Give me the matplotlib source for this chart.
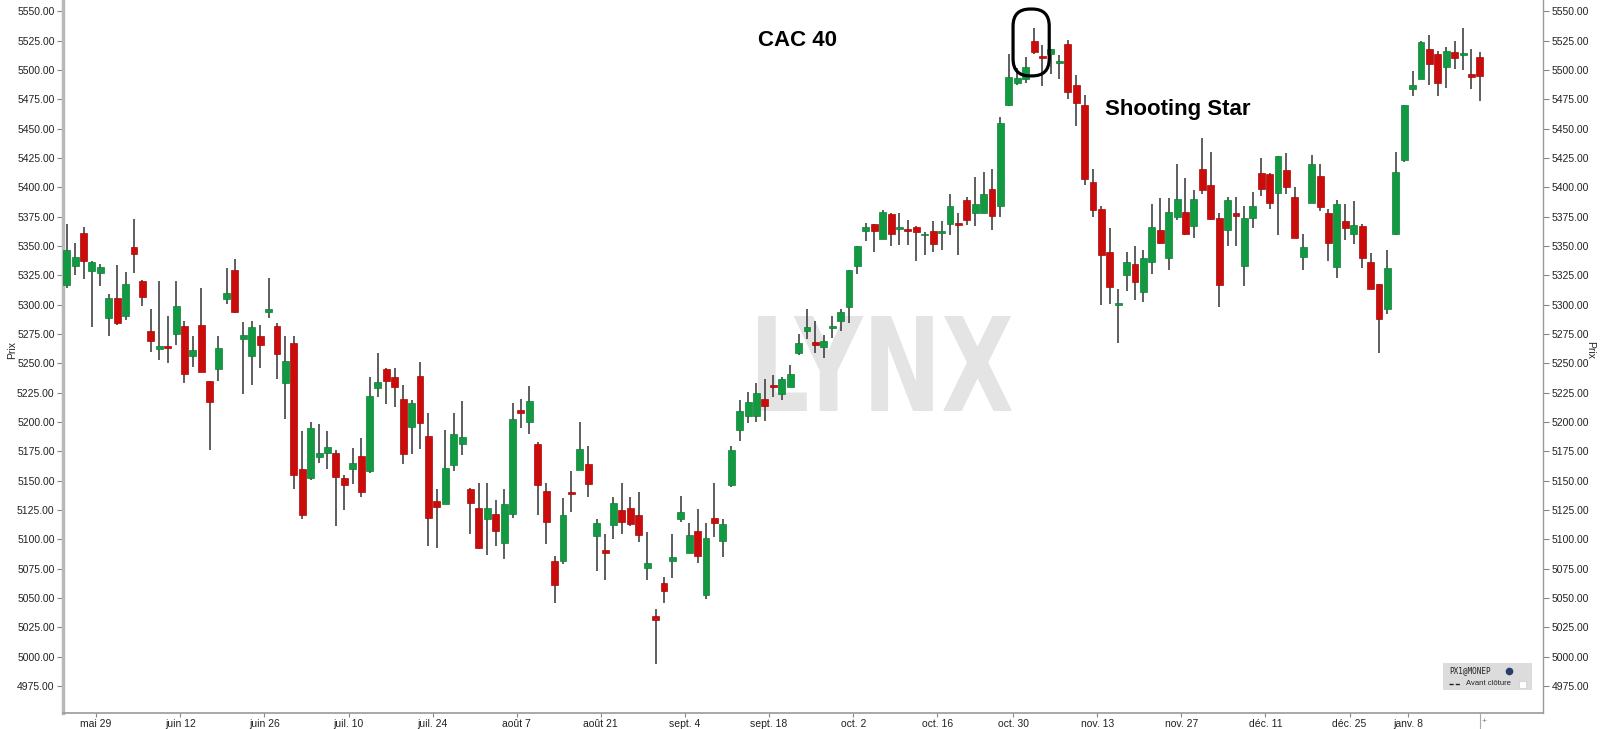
import numpy as np
import pandas as pd
import matplotlib
matplotlib.use('Agg')
import matplotlib.pyplot as plt
from matplotlib.patches import FancyBboxPatch, PathPatch, Rectangle
from matplotlib.textpath import TextPath
from matplotlib.font_manager import FontProperties
from matplotlib.transforms import IdentityTransform, Affine2D
from matplotlib.lines import Line2D

# ---------------- data (CAC 40 daily candles) ----------------
first_day, last_day = '2017-05-23', '2018-01-18'
closed_days = ['2017-10-23', '2017-12-25', '2017-12-26', '2018-01-01']

opens = [5317, 5333, 5361, 5329, 5327, 5289, 5306, 5290, 5349, 5320,
         5278, 5262, 5265, 5275, 5282, 5256, 5283, 5235, 5245, 5305,
         5330, 5271, 5256, 5273, 5294, 5282, 5233, 5267, 5160, 5152,
         5170, 5174, 5174, 5152, 5160, 5171, 5158, 5229, 5245, 5238,
         5220, 5196, 5239, 5188, 5133, 5130, 5163, 5181, 5143, 5127,
         5117, 5122, 5097, 5122, 5210, 5200, 5181, 5141, 5082, 5082,
         5140, 5159, 5164, 5103, 5091, 5112, 5125, 5127, 5121, 5076,
         5035, 5063, 5082, 5117, 5088, 5107, 5053, 5118, 5099, 5146,
         5193, 5205, 5205, 5220, 5232, 5224, 5230, 5259, 5278, 5268,
         5264, 5280, 5286, 5298, 5333, 5363, 5369, 5356, 5377, 5364.5,
         5364, 5366, 5359, 5363, 5361, 5369, 5370, 5389, 5378, 5378,
         5399, 5384, 5470, 5489, 5492, 5525, 5511, 5514, 5506, 5522,
         5487, 5470, 5405, 5382, 5345, 5300, 5325, 5335, 5311, 5336,
         5364, 5340, 5375, 5379, 5367, 5416, 5402, 5374, 5364, 5378,
         5333, 5374, 5412, 5411, 5395, 5415, 5392, 5341, 5387, 5410,
         5378, 5332, 5371, 5360, 5367, 5336, 5318, 5296, 5360, 5423,
         5484, 5492, 5518, 5514, 5503, 5515, 5513, 5497, 5511]

highs = [5369, 5353, 5366, 5337, 5335, 5309, 5334, 5328, 5373, 5321,
         5296, 5320, 5290, 5320, 5286, 5273, 5314, 5235, 5273, 5331,
         5339, 5285, 5286, 5283, 5323, 5284, 5273, 5273, 5192, 5200,
         5198, 5192, 5176, 5155, 5178, 5186, 5238, 5259, 5246, 5246,
         5232, 5219, 5251, 5208, 5143, 5193, 5208, 5218, 5144, 5148,
         5148, 5134, 5143, 5216, 5220, 5231, 5183, 5148, 5086, 5135,
         5158, 5200, 5180, 5117, 5105, 5136, 5148, 5136, 5140, 5106,
         5041, 5068, 5105, 5137, 5114, 5126, 5114, 5148, 5117, 5180,
         5219, 5226, 5233, 5237, 5240, 5238, 5249, 5275, 5296, 5286,
         5274, 5290, 5296, 5330, 5350, 5370, 5369, 5381, 5378, 5378,
         5372, 5367, 5362, 5371, 5371, 5394, 5378, 5392, 5409, 5413,
         5416, 5460, 5514, 5502, 5511, 5536, 5521, 5518, 5513, 5526,
         5496, 5479, 5416, 5384, 5365, 5313, 5345, 5350, 5347, 5386,
         5391, 5391, 5420, 5408, 5398, 5442, 5430, 5378, 5392, 5392,
         5384, 5396, 5425, 5412, 5427, 5429, 5400, 5360, 5428, 5420,
         5382, 5389, 5386, 5388, 5369, 5344, 5318, 5347, 5430, 5470,
         5499, 5525, 5530, 5516, 5520, 5525, 5536, 5518, 5515]

lows = [5314, 5325, 5322, 5281, 5316, 5273, 5283, 5287, 5327, 5299,
        5260, 5253, 5250, 5266, 5233, 5247, 5243, 5176, 5235, 5301,
        5293, 5224, 5232, 5246, 5289, 5237, 5203, 5143, 5117, 5151,
        5165, 5160, 5111, 5125, 5147, 5136, 5157, 5221, 5215, 5213,
        5164, 5173, 5177, 5094, 5093, 5130, 5158, 5172, 5105, 5092,
        5087, 5094, 5083, 5118, 5195, 5190, 5121, 5096, 5046, 5079,
        5123, 5159, 5136, 5073, 5065, 5100, 5105, 5111, 5098, 5065,
        4994, 5046, 5067, 5115, 5088, 5080, 5049, 5102, 5085, 5145,
        5184, 5199, 5200, 5201, 5221, 5219, 5230, 5257, 5271, 5259,
        5255, 5272, 5278, 5284, 5326, 5354, 5345, 5356, 5350, 5351,
        5351, 5337, 5342, 5345, 5347, 5359, 5342, 5368, 5367, 5378,
        5364, 5375, 5469, 5487, 5489, 5514, 5486, 5497, 5492, 5475,
        5452, 5402, 5375, 5300, 5301, 5267, 5312, 5304, 5302, 5326,
        5352, 5330, 5372, 5359, 5357, 5394, 5372, 5298, 5350, 5350,
        5316, 5365, 5393, 5382, 5359, 5394, 5357, 5330, 5387, 5380,
        5337, 5323, 5355, 5352, 5331, 5313, 5259, 5292, 5359, 5422,
        5478, 5492, 5487, 5478, 5485, 5501, 5500, 5484, 5474]

closes = [5347, 5341, 5337, 5336, 5332, 5306, 5284, 5318, 5343, 5307,
          5269, 5265, 5263, 5299, 5241, 5261, 5243, 5217, 5263, 5310,
          5294, 5274, 5281, 5266, 5296, 5258, 5252, 5155, 5121, 5195,
          5174, 5179, 5153, 5146, 5165, 5140, 5222, 5234, 5235, 5230,
          5173, 5216, 5199, 5118, 5128, 5161, 5190, 5187, 5131, 5093,
          5127, 5107, 5130, 5203, 5208, 5218, 5146, 5115, 5061, 5121,
          5139, 5177, 5147, 5114, 5088, 5131, 5115, 5113, 5104, 5080,
          5031, 5056, 5085, 5123, 5104, 5086, 5101, 5114, 5113, 5176,
          5209, 5217, 5225, 5214, 5230, 5237, 5241, 5267, 5281, 5266,
          5269, 5282, 5294, 5330, 5350, 5366, 5363, 5379, 5360, 5365.5,
          5363, 5362, 5360, 5352, 5363, 5384, 5368, 5372, 5386, 5394,
          5376, 5455, 5494, 5493, 5503, 5515, 5510, 5518, 5507, 5481,
          5472, 5407, 5381, 5342, 5315, 5301, 5336, 5319, 5340, 5366,
          5353, 5379, 5390, 5360, 5390, 5398, 5373, 5317, 5389, 5376,
          5374, 5384, 5399, 5387, 5427, 5400, 5357, 5349, 5420, 5383,
          5353, 5386, 5365, 5368, 5340, 5313, 5288, 5331, 5413, 5470,
          5487, 5524, 5505, 5489, 5516, 5510, 5514, 5494, 5495]

y_ticks = list(range(4975, 5551, 25))
tick_start, tick_end = '2017-05-29', '2018-01-08'
month_fr = {1: 'janv.', 5: 'mai', 6: 'juin', 7: 'juil.', 8: 'août',
            9: 'sept.', 10: 'oct.', 11: 'nov.', 12: 'déc.'}
title_text = 'CAC 40'
pattern_text = 'Shooting Star'
star_date = '2017-11-01'

# ---------------- build ----------------
dates = pd.bdate_range(first_day, last_day).difference(pd.to_datetime(closed_days))
n = min(len(dates), len(opens))
x = np.arange(n)
o = np.array(opens[:n], float)
h = np.array(highs[:n], float)
l = np.array(lows[:n], float)
c = np.array(closes[:n], float)

W, H = 1600, 729
fig = plt.figure(figsize=(W / 100, H / 100), dpi=100)
ax = fig.add_axes([63 / W, 16.3 / H, (1543 - 63) / W, 712.7 / H])
ax.set_xlim(-0.44, 175.5)
ax.set_ylim(4952.3, 5559.7)

font = 'Liberation Sans'
GREEN, GREEN_E = '#119a41', '#0c7d33'
RED, RED_E = '#cc0b0b', '#a80808'

up = c >= o
ax.vlines(x, l, h, color='#333333', linewidth=1.1, zorder=2)
bottoms = np.minimum(o, c)
heights = np.maximum(np.abs(c - o), 1.6)
ax.bar(x, heights, bottom=bottoms, width=0.82,
       color=np.where(up, GREEN, RED), edgecolor=np.where(up, GREEN_E, RED_E),
       linewidth=0.5, zorder=3)

# axes styling
ax.spines['top'].set_visible(False)
ax.spines['left'].set_color('#b8b8b8')
ax.spines['left'].set_linewidth(2.5)
ax.spines['right'].set_color('#9a9a9a')
ax.spines['right'].set_linewidth(1.0)
ax.spines['bottom'].set_color('#9a9a9a')
ax.spines['bottom'].set_linewidth(1.2)

ax.set_yticks(y_ticks)
ax.set_yticklabels([f'{v:.2f}' for v in y_ticks])
ax.tick_params(axis='y', left=True, right=True, labelleft=True, labelright=True,
               length=4, width=0.8, color='#888888', labelsize=7.5,
               labelcolor='#222222', pad=2)

tick_dates = pd.date_range(tick_start, tick_end, freq='14D')
tick_pos = dates[:n].searchsorted(tick_dates) - 0.5
ax.set_xticks(tick_pos)
ax.set_xticklabels([f'{month_fr[d.month]} {d.day}' for d in tick_dates])
ax.tick_params(axis='x', length=3, width=0.8, color='#888888', labelsize=7.5,
               labelcolor='#222222', pad=1.5)
for lab in ax.get_xticklabels() + ax.get_yticklabels():
    lab.set_fontfamily(font)

fig.text(12 / W, 1 - 350 / H, 'Prix', rotation=90, ha='center', va='center',
         fontsize=7.5, family=font, color='#222222')
fig.text(1590 / W, 1 - 350 / H, 'Prix', rotation=270, ha='center', va='center',
         fontsize=7.5, family=font, color='#222222')

# titles
fig.text(797 / W, 1 - 41 / H, title_text, ha='center', va='center',
         fontsize=16, fontweight='bold', family=font, color='black')
fig.text(1178 / W, 1 - 109 / H, pattern_text, ha='center', va='center',
         fontsize=16, fontweight='bold', family=font, color='black')

# watermark LYNX
tp = TextPath((0, 0), 'LYNX', size=1, prop=FontProperties(family='DejaVu Sans', weight='bold'))
bb = tp.get_extents()
wm_x0, wm_x1, wm_y0, wm_y1 = 758, 1012, H - 411, H - 316
tr = (Affine2D().translate(-bb.x0, -bb.y0)
      .scale((wm_x1 - wm_x0) / bb.width, (wm_y1 - wm_y0) / bb.height)
      .translate(wm_x0, wm_y0))
ax.add_patch(PathPatch(tr.transform_path(tp), facecolor='#e4e4e4', edgecolor='none',
                       transform=IdentityTransform(), zorder=1))

# highlight around shooting star candle
si = dates[:n].searchsorted(pd.Timestamp(star_date))
(px0, py0) = ax.transData.transform((si - 2.5, 5495))
(px1, py1) = ax.transData.transform((si + 1.8, 5552))
r = min(px1 - px0, py1 - py0) / 2 - 1
ax.add_patch(FancyBboxPatch((px0, py0), px1 - px0, py1 - py0,
                            boxstyle=f'round,pad=0,rounding_size={r}',
                            facecolor='none', edgecolor='black', linewidth=2.3,
                            transform=IdentityTransform(), zorder=5, clip_on=False))

# legend box (bottom right)
fig.patches.append(Rectangle((1443, H - 690), 89, 27.3, facecolor='#dcdcdc',
                             edgecolor='none', transform=IdentityTransform(),
                             figure=fig, zorder=5))
fig.text(1449 / W, (H - 670.5) / H, 'PX1@MONEP', ha='left', va='center',
         fontsize=5.5, family='DejaVu Sans Mono', color='#222222', zorder=6)
fig.lines.append(Line2D([1509], [H - 670.5], marker='o', markersize=4.5,
                        color='#2c3e6a', transform=IdentityTransform(), figure=fig, zorder=6))
fig.lines.append(Line2D([1449, 1461], [H - 683.5, H - 683.5], color='#222222',
                        linewidth=1.0, linestyle=(0, (3, 1.5)),
                        transform=IdentityTransform(), figure=fig, zorder=6))
fig.text(1466 / W, (H - 683.5) / H, 'Avant clôture', ha='left', va='center',
         fontsize=5.5, family=font, color='#222222', zorder=6)
fig.patches.append(Rectangle((1519, H - 688), 7, 7, facecolor='white',
                             edgecolor='#cccccc', linewidth=0.5,
                             transform=IdentityTransform(), figure=fig, zorder=6))

# small bottom-right separator and plus sign
fig.lines.append(Line2D([1480, 1480], [0, H - 713], color='#aaaaaa', linewidth=0.8,
                        transform=IdentityTransform(), figure=fig))
fig.text(1484 / W, 1 - 722 / H, '+', ha='center', va='center', fontsize=6,
         color='#777777', family=font)

fig.savefig('out.png', dpi=100, facecolor='white')
